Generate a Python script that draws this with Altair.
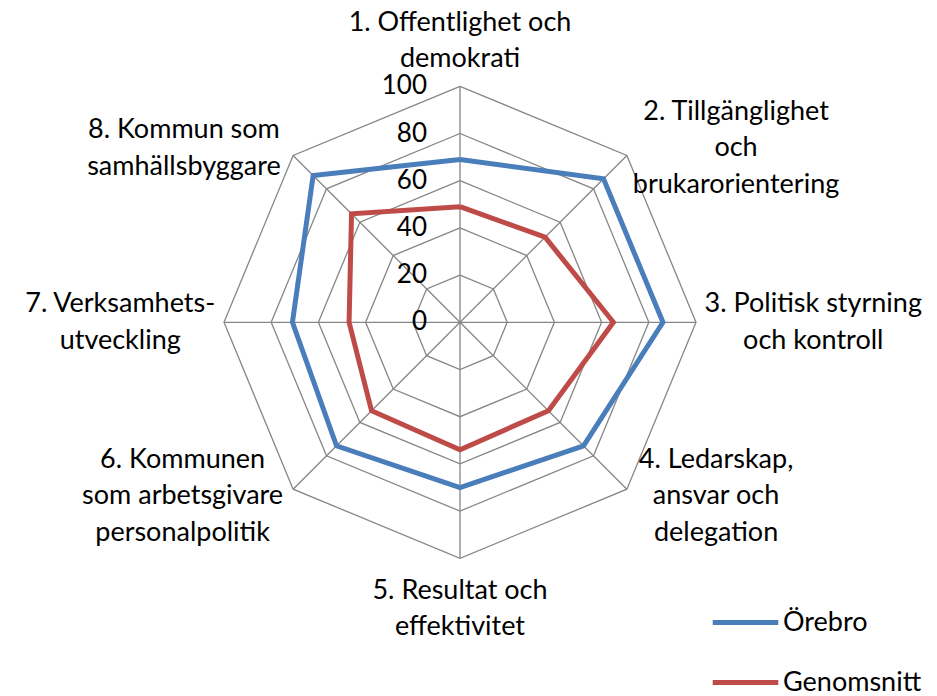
import math
import altair as alt
import pandas as pd

# ---------------- data ----------------
categories = [
    "1. Offentlighet och\ndemokrati",
    "2. Tillgänglighet\noch\nbrukarorientering",
    "3. Politisk styrning\noch kontroll",
    "4. Ledarskap,\nansvar och\ndelegation",
    "5. Resultat och\neffektivitet",
    "6. Kommunen\nsom arbetsgivare\npersonalpolitik",
    "7. Verksamhets-\nutveckling",
    "8. Kommun som\nsamhällsbyggare",
]
orebro = [69, 86, 86, 74, 70, 74, 71, 88]
genomsnitt = [49, 51, 65, 53, 54, 53, 47, 65]
tick_values = [0, 20, 40, 60, 80, 100]
series_names = ["Örebro", "Genomsnitt"]
series_colors = ["#4A7EBB", "#BE4B48"]

# ---------------- layout ----------------
N = len(categories)
MAXV = 100
W, H = 921, 688
CX, CY = 452, 314.3          # centre of the radar in plot pixels
PX = 2.36                    # pixels per unit
FONT = "Lato"
FS = 27
TFS = 26
LH = 36.5
GRID = "#868686"

xdom = [-CX / PX, (W - CX) / PX]
ydom = [-(H - CY) / PX, CY / PX]
xs = alt.Scale(domain=xdom, nice=False, zero=False)
ys = alt.Scale(domain=ydom, nice=False, zero=False)

def text_width(s):
    w = 0.0
    for ch in s:
        if ch in "iljtf.,:;'|!-I ":
            w += 0.26
        elif ch in "r":
            w += 0.36
        elif ch in "mwMW":
            w += 0.82
        elif ch.isupper() or ch.isdigit():
            w += 0.58
        else:
            w += 0.52
    return w * FS

# series table (closed polygons)
srows = []
for name, vals in zip(series_names, [orebro, genomsnitt]):
    for k in range(N + 1):
        srows.append({"series": name, "order": k, "axis": k % N, "value": vals[k % N]})
series_df = pd.DataFrame(srows)

grows = []
for lv in tick_values[1:]:
    for k in range(N + 1):
        grows.append({"level": lv, "order": k, "axis": k % N})
grid_df = pd.DataFrame(grows)

spoke_df = pd.DataFrame({"axis": list(range(N))})
tick_df = pd.DataFrame({"value": tick_values})

lrows = []
for i, c in enumerate(categories):
    lines = c.split("\n")
    hw = max(text_width(l) for l in lines) / 2
    lrows.append({"label": c, "axis": i, "nl": len(lines), "hw": hw})
label_df = pd.DataFrame(lrows)

ANG = f"2*PI*datum.axis/{N}"

grid = alt.Chart(grid_df).mark_line(color=GRID, strokeWidth=1.3).transform_calculate(
    x=f"datum.level*sin({ANG})", y=f"datum.level*cos({ANG})"
).encode(
    x=alt.X("x:Q", scale=xs, axis=None),
    y=alt.Y("y:Q", scale=ys, axis=None),
    detail="level:N",
    order="order:Q",
)

spokes = alt.Chart(spoke_df).mark_rule(color=GRID, strokeWidth=1.3).transform_calculate(
    x0="0", y0="0",
    x=f"{MAXV}*sin({ANG})", y=f"{MAXV}*cos({ANG})",
).encode(
    x=alt.X("x0:Q", scale=xs, axis=None),
    y=alt.Y("y0:Q", scale=ys, axis=None),
    x2="x:Q", y2="y:Q",
)

lines = alt.Chart(series_df).mark_line(strokeWidth=5, strokeJoin="miter").transform_calculate(
    x=f"datum.value*sin({ANG})", y=f"datum.value*cos({ANG})"
).encode(
    x=alt.X("x:Q", scale=xs, axis=None),
    y=alt.Y("y:Q", scale=ys, axis=None),
    order="order:Q",
    color=alt.Color(
        "series:N",
        scale=alt.Scale(domain=series_names, range=series_colors),
        legend=alt.Legend(
            orient="none", legendX=702, legendY=579, title=None,
            symbolType="stroke", symbolStrokeWidth=5, symbolSize=4300,
            labelFont=FONT, labelFontSize=FS, labelColor="black",
            labelOffset=2, rowPadding=11, labelLimit=0,
        ),
    ),
)

ticks = alt.Chart(tick_df).mark_text(
    align="right", baseline="middle", dx=-33, font=FONT, fontSize=TFS, color="black"
).transform_calculate(x0="0").encode(
    x=alt.X("x0:Q", scale=xs, axis=None),
    y=alt.Y("value:Q", scale=ys, axis=None),
    text="value:Q",
)

GX, GYT, GYB, GD = 9, 9, 14, 7
labels = alt.Chart(label_df).mark_text(
    align="center", baseline="middle", lineBreak="\n", lineHeight=LH,
    font=FONT, fontSize=FS, color="black",
).transform_calculate(
    s=f"sin({ANG})", c=f"cos({ANG})",
).transform_calculate(
    x=f"{MAXV}*datum.s + (abs(datum.s)>0.01 ? (datum.s>0?1:-1)*({GX}+datum.hw)/{PX} : 0)",
    yc=f"{MAXV}*datum.c + (abs(datum.s)<0.01 ? (datum.c>0 ? ({GYT}+datum.nl*{LH}/2) : -({GYB}+datum.nl*{LH}/2))/{PX} : "
       f"(abs(datum.c)>0.01 ? (datum.c>0?1:-1)*{GD}/{PX} : 0))",
).transform_calculate(
    y=f"datum.yc + (datum.nl-1)*{LH}/2/{PX}",
).encode(
    x=alt.X("x:Q", scale=xs, axis=None),
    y=alt.Y("y:Q", scale=ys, axis=None),
    text="label:N",
)

chart = alt.layer(grid, spokes, lines, ticks, labels).properties(
    width=W, height=H, padding=0,
    autosize=alt.AutoSizeParams(type="none"),
).configure_view(stroke=None)

chart.save("out.html", embed_options={"renderer": "svg", "actions": False})
